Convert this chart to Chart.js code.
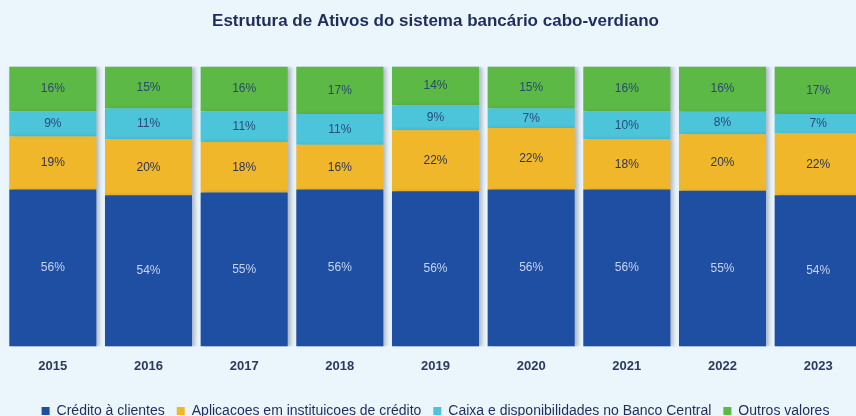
<!DOCTYPE html>
<html><head><meta charset="utf-8">
<script src="https://cdn.jsdelivr.net/npm/chart.js@4"></script>
<style>
html,body{margin:0;padding:0;background:#EAF5FC;overflow:hidden;}
#wrap{width:866px;height:416px;position:relative;}
</style></head>
<body><div id="wrap"><canvas id="c"></canvas></div>
<script>
const years = ['2015','2016','2017','2018','2019','2020','2021','2022','2023'];
const credito = [56,54,55,56,56,56,56,55,54];
const aplicacoes = [19,20,18,16,22,22,18,20,22];
const caixa = [9,11,11,11,9,7,10,8,7];
const outros = [16,15,16,17,14,15,16,16,17];
const seriesNames = ['Crédito à clientes','Aplicacoes em instituicoes de crédito','Caixa e disponibilidades no Banco Central','Outros valores'];

const raw = [credito, aplicacoes, caixa, outros];
const totals = years.map((_, i) => raw.reduce((s, a) => s + a[i], 0));
const norm = raw.map(a => a.map((v, i) => v / totals[i] * 100));
const colors = ['#1F4FA3','#F0B72A','#4CC4D9','#5CB946'];
const labelColors = ['#C8D4EC','#2A3558','#2A4A7A','#2A4A6A'];

const labelPlugin = {
  id:'segLabels',
  afterDatasetsDraw(chart){
    const ctx = chart.ctx;
    ctx.save();
    ctx.font = '12px "Liberation Sans", Arial, sans-serif';
    ctx.textAlign = 'center';
    ctx.textBaseline = 'middle';
    chart.data.datasets.forEach((ds, di) => {
      const meta = chart.getDatasetMeta(di);
      meta.data.forEach((bar, i) => {
        ctx.fillStyle = labelColors[di];
        const y = (bar.y + bar.base) / 2;
        ctx.fillText(raw[di][i] + '%', bar.x, y);
      });
    });
    ctx.restore();
  }
};
const shadowPlugin = {
  id:'shadow',
  beforeDatasetsDraw(chart){
    const ctx = chart.ctx; ctx.save();
    ctx.shadowColor = 'rgba(60,70,90,0.35)';
    ctx.shadowBlur = 4; ctx.shadowOffsetX = 3; ctx.shadowOffsetY = 1;
  },
  afterDatasetsDraw(chart){ chart.ctx.restore(); }
};

new Chart(document.getElementById('c'), {
  type:'bar',
  data:{
    labels: years,
    datasets: raw.map((a, di) => ({
      label: seriesNames[di],
      data: norm[di],
      backgroundColor: colors[di],
      borderWidth: 0,
      categoryPercentage: 1,
      barPercentage: 0.91
    }))
  },
  options:{
    responsive:true, maintainAspectRatio:false, animation:false,
    layout:{padding:{left:5,right:0,top:0,bottom:-12}},
    plugins:{
      title:{display:true,text:'Estrutura de Ativos do sistema bancário cabo-verdiano',
        color:'#1F2D5C',font:{family:'"Liberation Sans", Arial, sans-serif',size:17,weight:'bold'},
        padding:{top:11,bottom:35}},
      legend:{position:'bottom',labels:{color:'#1F2D5C',boxWidth:8,boxHeight:8,padding:12,
        font:{family:'"Liberation Sans Narrow","Liberation Sans", Arial, sans-serif',size:14}}},
      tooltip:{enabled:false}
    },
    scales:{
      x:{stacked:true,grid:{display:false},border:{display:false},
        afterFit(scale){ scale.height += 14; },
        ticks:{color:'#2B3A5E',font:{family:'"Liberation Sans", Arial, sans-serif',size:13,weight:'bold'},padding:4}},
      y:{stacked:true,min:0,max:100,display:false}
    }
  },
  plugins:[shadowPlugin,labelPlugin]
});
</script></body></html>
